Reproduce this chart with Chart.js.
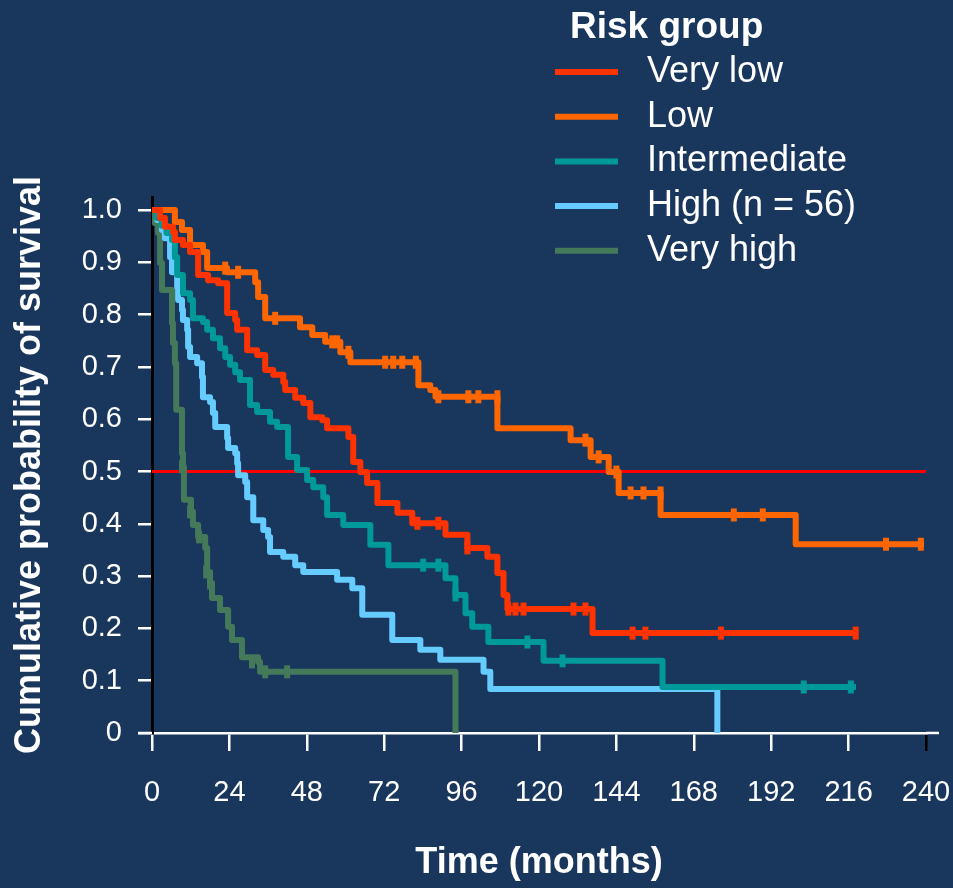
<!DOCTYPE html>
<html><head><meta charset="utf-8">
<script src="https://cdn.jsdelivr.net/npm/chart.js@4.4.1/dist/chart.umd.min.js"></script>
<style>
html,body{margin:0;padding:0;background:#19365d;}
canvas{display:block;}
</style></head><body>
<canvas id="c" width="953" height="888"></canvas>
<script>
// ---- Data ----
const groupNames = ['Very low', 'Low', 'Intermediate', 'High (n = 56)', 'Very high'];

const xTicks = [0, 24, 48, 72, 96, 120, 144, 168, 192, 216, 240];
const yTicks = [0, 0.1, 0.2, 0.3, 0.4, 0.5, 0.6, 0.7, 0.8, 0.9, 1.0];
const yTickLabels = ['0', '0.1', '0.2', '0.3', '0.4', '0.5', '0.6', '0.7', '0.8', '0.9', '1.0'];

// Very low
const veryLowTime = [0, 2.5, 4.0, 6.5, 7.1, 9.6, 11.8, 14.3, 17.4, 20.5, 23.3, 25.8, 26.4, 29.5, 32.6, 35.1, 37.6, 40.7, 41.3, 44.4, 46.9, 49.1, 52.8, 54.3, 60.9, 62.4, 64.6, 66.7, 69.9, 76.1, 80.7, 91.0, 97.8, 104.0, 107.1, 109.0, 110.2, 136.6, 219.0];
const veryLowSurv = [1.0, 0.985, 0.968, 0.958, 0.943, 0.933, 0.92, 0.876, 0.866, 0.86, 0.803, 0.79, 0.771, 0.732, 0.723, 0.694, 0.685, 0.671, 0.656, 0.641, 0.631, 0.604, 0.598, 0.583, 0.566, 0.518, 0.499, 0.478, 0.44, 0.421, 0.401, 0.379, 0.354, 0.337, 0.306, 0.264, 0.237, 0.191, 0.191];
const veryLowCensTime = [82.3, 88.8, 97.8, 110.5, 112.7, 115.2, 130.7, 134.4, 149.0, 153.0, 176.4, 218.2];
const veryLowCensSurv = [0.401, 0.401, 0.354, 0.237, 0.237, 0.237, 0.237, 0.237, 0.191, 0.191, 0.191, 0.191];

// Low
const lowTime = [0, 7.1, 9.3, 11.8, 15.8, 17.1, 23.3, 32.0, 32.9, 35.1, 45.9, 49.7, 53.7, 58.4, 61.5, 82.6, 86.3, 87.9, 107.1, 129.8, 136.0, 141.6, 144.7, 157.7, 199.6, 239.4];
const lowSurv = [1.0, 0.977, 0.962, 0.933, 0.92, 0.889, 0.881, 0.862, 0.834, 0.793, 0.776, 0.761, 0.748, 0.728, 0.709, 0.665, 0.656, 0.643, 0.583, 0.56, 0.528, 0.499, 0.459, 0.417, 0.361, 0.361];
const lowCensTime = [22.7, 26.7, 38.2, 55.9, 57.4, 60.9, 72.3, 74.8, 77.6, 81.8, 88.8, 98.1, 101.2, 107.1, 134.4, 138.5, 144.0, 148.4, 152.4, 157.7, 180.4, 189.4, 227.6, 238.4];
const lowCensSurv = [0.889, 0.881, 0.793, 0.748, 0.748, 0.728, 0.709, 0.709, 0.709, 0.709, 0.643, 0.643, 0.643, 0.643, 0.56, 0.528, 0.499, 0.459, 0.459, 0.459, 0.417, 0.417, 0.361, 0.361];

// Intermediate
const interTime = [0, 1.5, 3.0, 4.5, 6.2, 7.1, 7.8, 9.6, 11.8, 12.7, 15.8, 17.1, 18.9, 21.1, 22.7, 24.2, 25.8, 27.3, 30.4, 32.6, 36.6, 38.8, 42.2, 45.0, 48.1, 50.0, 53.1, 54.3, 59.3, 67.7, 73.3, 91.0, 94.1, 97.2, 99.3, 104.3, 121.4, 158.3, 218.3];
const interSurv = [1.0, 0.985, 0.97, 0.956, 0.943, 0.91, 0.876, 0.841, 0.828, 0.793, 0.786, 0.771, 0.755, 0.736, 0.719, 0.704, 0.69, 0.675, 0.627, 0.614, 0.595, 0.585, 0.528, 0.503, 0.484, 0.47, 0.451, 0.417, 0.398, 0.36, 0.321, 0.296, 0.264, 0.229, 0.203, 0.174, 0.138, 0.088, 0.088];
const interCensTime = [84.1, 88.8, 94.1, 116.4, 127.3, 202.1, 216.7];
const interCensSurv = [0.321, 0.321, 0.264, 0.174, 0.138, 0.088, 0.088];

// High (n = 56)
const highTime = [0, 1.6, 3.1, 4.0, 5.6, 6.2, 7.8, 8.1, 9.3, 9.6, 10.9, 11.2, 11.8, 14.0, 15.5, 15.8, 18.0, 18.9, 19.6, 23.3, 23.6, 25.8, 26.4, 26.7, 28.9, 29.5, 31.4, 34.5, 36.0, 36.6, 40.7, 44.4, 46.9, 57.4, 62.1, 65.2, 74.5, 83.2, 89.4, 102.8, 104.9, 175.3];
const highSurv = [1.0, 0.981, 0.962, 0.946, 0.91, 0.881, 0.853, 0.828, 0.809, 0.79, 0.771, 0.738, 0.719, 0.707, 0.681, 0.642, 0.633, 0.612, 0.585, 0.564, 0.545, 0.535, 0.516, 0.493, 0.48, 0.451, 0.407, 0.388, 0.375, 0.346, 0.337, 0.321, 0.308, 0.293, 0.277, 0.226, 0.178, 0.159, 0.14, 0.117, 0.084, 0.0];

// Very high
const veryHighTime = [0, 0.9, 1.9, 2.5, 3.1, 6.2, 6.5, 7.1, 7.5, 9.3, 9.6, 9.9, 12.1, 12.7, 14.3, 16.5, 17.1, 18.0, 18.6, 21.1, 23.6, 24.8, 27.9, 32.9, 33.5, 94.1];
const veryHighSurv = [1.0, 0.975, 0.956, 0.899, 0.847, 0.784, 0.746, 0.707, 0.618, 0.535, 0.509, 0.446, 0.423, 0.398, 0.375, 0.354, 0.308, 0.287, 0.258, 0.235, 0.203, 0.178, 0.145, 0.136, 0.117, 0.0];
const veryHighCensTime = [9.3, 11.8, 14.6, 16.8, 18.0, 31.0, 35.1, 41.9];
const veryHighCensSurv = [0.509, 0.423, 0.375, 0.308, 0.287, 0.136, 0.117, 0.117];

const refLineX = [0, 240];
const refLineY = [0.5, 0.5];

// ---- Styles ----
const FONT = '"Liberation Sans", Arial, Helvetica, sans-serif';
const colVeryLow = '#ff3300', colLow = '#ff6600', colInter = '#009999', colHigh = '#66ccff', colVeryHigh = '#447a5a';

function pts(xs, ys) { return xs.map((x, i) => ({x: x, y: ys[i]})); }

function curve(label, xs, ys, color) {
  return {label: label, data: pts(xs, ys), borderColor: color, backgroundColor: color,
    borderWidth: 6, stepped: true, pointRadius: 0, pointHoverRadius: 0, fill: false,
    order: 1, isCurve: true, borderJoinStyle: 'round', borderCapStyle: 'butt'};
}
function cens(xs, ys, color) {
  return {label: '', data: pts(xs, ys), showLine: false, pointStyle: 'line', rotation: 90,
    pointRadius: 6.5, pointBorderWidth: 6, borderColor: color, backgroundColor: color,
    pointHoverRadius: 6.5, order: 0};
}

const datasets = [
  curve(groupNames[0], veryLowTime, veryLowSurv, colVeryLow),
  curve(groupNames[1], lowTime, lowSurv, colLow),
  curve(groupNames[2], interTime, interSurv, colInter),
  curve(groupNames[3], highTime, highSurv, colHigh),
  curve(groupNames[4], veryHighTime, veryHighSurv, colVeryHigh),
  cens(veryLowCensTime, veryLowCensSurv, colVeryLow),
  cens(lowCensTime, lowCensSurv, colLow),
  cens(interCensTime, interCensSurv, colInter),
  cens(veryHighCensTime, veryHighCensSurv, colVeryHigh),
  {label: '', data: pts(refLineX, refLineY), borderColor: '#ff0000', borderWidth: 3,
   pointRadius: 0, fill: false, order: 2}
];

const legendPlugin = {
  id: 'riskLegend',
  afterDraw(chart) {
    const ctx = chart.ctx;
    ctx.save();
    ctx.fillStyle = '#ffffff';
    ctx.textAlign = 'left';
    ctx.textBaseline = 'alphabetic';
    ctx.font = 'bold 37px ' + FONT;
    ctx.fillText('Risk group', 570, 38);
    const curves = chart.data.datasets.filter(d => d.isCurve);
    curves.forEach((d, i) => {
      const base = 82 + i * 44.7;
      const ly = base - 10;
      ctx.strokeStyle = d.borderColor;
      ctx.lineWidth = 6;
      ctx.beginPath();
      ctx.moveTo(555, ly);
      ctx.lineTo(618, ly);
      ctx.stroke();
      ctx.font = '36px ' + FONT;
      ctx.fillStyle = '#ffffff';
      ctx.fillText(d.label, 647, base);
    });
    ctx.restore();
  }
};

const axisExtPlugin = {
  id: 'axisExt',
  afterDraw(chart) {
    const a = chart.chartArea, ctx = chart.ctx;
    ctx.save();
    ctx.strokeStyle = '#ffffff';
    ctx.lineWidth = 2.5;
    ctx.beginPath();
    ctx.moveTo(a.left - 14, a.bottom);
    ctx.lineTo(a.left, a.bottom);
    ctx.moveTo(a.right, a.bottom);
    ctx.lineTo(a.right + 13, a.bottom);
    ctx.stroke();
    ctx.restore();
  }
};

new Chart(document.getElementById('c'), {
  type: 'line',
  data: {datasets: datasets},
  plugins: [legendPlugin, axisExtPlugin],
  options: {
    responsive: false,
    devicePixelRatio: 1,
    animation: false,
    events: [],
    layout: {padding: {top: 197, right: 27, left: 0, bottom: 0}},
    plugins: {legend: {display: false}, tooltip: {enabled: false}},
    scales: {
      x: {
        type: 'linear', min: 0, max: 240,
        afterBuildTicks: s => { s.ticks = xTicks.map(v => ({value: v})); },
        afterFit: s => { s.height = 155; s.paddingLeft = 0; s.paddingRight = 0; },
        ticks: {color: '#ffffff', font: {size: 29, family: FONT}, padding: 25, maxRotation: 0, autoSkip: false},
        grid: {drawOnChartArea: false, tickLength: 18, lineWidth: 2.5,
               color: c => (c.tick && c.tick.value === 240) ? '#000000' : '#ffffff'},
        border: {color: '#ffffff', width: 2.5},
        title: {display: true, text: 'Time (months)', color: '#ffffff',
                font: {size: 36, weight: 'bold', family: FONT}, padding: {top: 0, bottom: 3}}
      },
      y: {
        type: 'linear', min: 0, max: 1.025, z: 1,
        afterBuildTicks: s => { s.ticks = yTicks.map(v => ({value: v})); },
        afterFit: s => { s.width = 152; s.paddingTop = 0; s.paddingBottom = 0; },
        ticks: {color: '#ffffff', font: {size: 29, family: FONT}, padding: 16,
                callback: (v) => { const i = yTicks.findIndex(t => Math.abs(t - v) < 1e-9); return i >= 0 ? yTickLabels[i] : ''; }},
        grid: {drawOnChartArea: false, tickLength: 14, lineWidth: 2.5, color: '#ffffff'},
        border: {color: '#000000', width: 3},
        title: {display: true, text: 'Cumulative probability of survival', color: '#ffffff',
                font: {size: 36, weight: 'bold', family: FONT}, padding: {top: 8, bottom: 0}}
      }
    }
  }
});
</script>
</body></html>
